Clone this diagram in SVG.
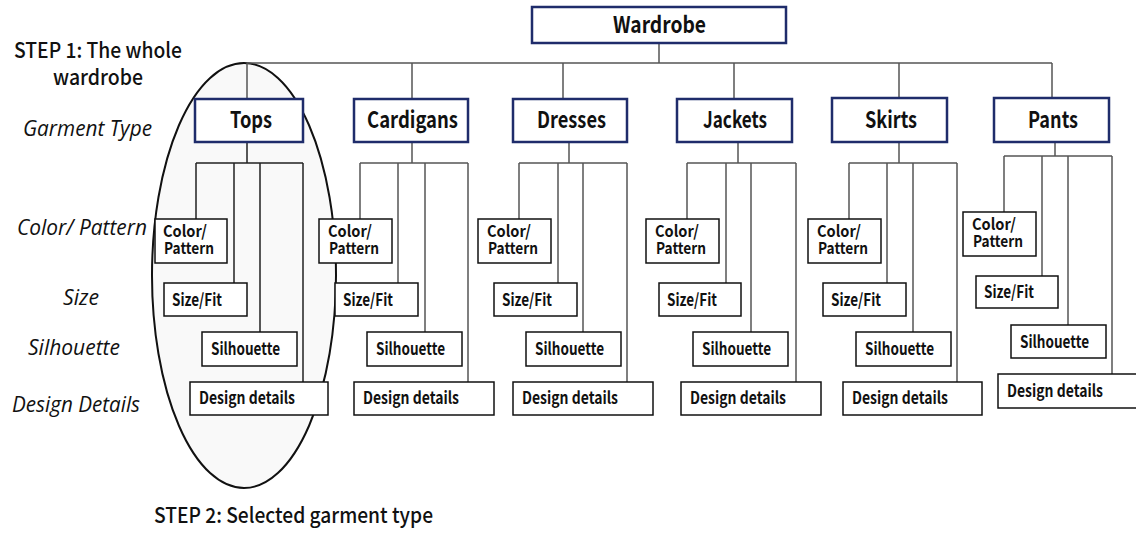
<svg xmlns="http://www.w3.org/2000/svg" width="1136" height="533" viewBox="0 0 1136 533">
  <style>
    .bg { fill: #ffffff; }
    .focus { fill: #f9f9f9; stroke: #111; stroke-width: 2; }
    .link { fill: none; stroke: #555; stroke-width: 1.5; }
    .link-dark { fill: none; stroke: #222; stroke-width: 1.5; }
    .top { fill: #fff; stroke: #1f2c6b; stroke-width: 2.5; }
    .leaf { fill: #fff; stroke: #111; stroke-width: 1.5; }
    .t-head { font-family: "Noto Sans CJK KR", "Noto Sans", sans-serif; font-weight: 700; font-size: 23px; fill: #111; }
    .t-leaf { font-family: "Noto Sans CJK KR", "Noto Sans", sans-serif; font-weight: 700; font-size: 17px; fill: #111; }
    .t-two { font-family: "Noto Sans CJK KR", "Noto Sans", sans-serif; font-weight: 700; font-size: 16px; fill: #111; }
    .t-side { font-family: "Open Sans", "Noto Sans", sans-serif; font-style: italic; font-size: 21px; fill: #111; }
    .t-step { font-family: "Noto Sans CJK KR", "Noto Sans", sans-serif; font-weight: 500; font-size: 21px; fill: #111; }
  </style>

  <rect class="bg" x="0" y="0" width="1136" height="533"/>

  <!-- highlighted garment type -->
  <ellipse id="selection" class="focus" cx="244" cy="275.5" rx="92" ry="212.5"/>

  <!-- row captions -->
  <g id="captions">
    <text class="t-step" x="14" y="58" textLength="168" lengthAdjust="spacingAndGlyphs">STEP 1: The whole</text>
    <text class="t-step" x="53" y="85" textLength="90" lengthAdjust="spacingAndGlyphs">wardrobe</text>
    <text class="t-side" x="23" y="136" textLength="129" lengthAdjust="spacingAndGlyphs">Garment Type</text>
    <text class="t-side" x="17" y="235" textLength="130" lengthAdjust="spacingAndGlyphs">Color/ Pattern</text>
    <text class="t-side" x="63" y="305" textLength="36" lengthAdjust="spacingAndGlyphs">Size</text>
    <text class="t-side" x="28" y="355" textLength="92" lengthAdjust="spacingAndGlyphs">Silhouette</text>
    <text class="t-side" x="12" y="412" textLength="128" lengthAdjust="spacingAndGlyphs">Design Details</text>
    <text class="t-step" x="154" y="523" textLength="279" lengthAdjust="spacingAndGlyphs">STEP 2: Selected garment type</text>
  </g>

  <!-- connectors -->
  <g id="connectors">
    <path class="link" d="M659 43V63 M247 63H1052 M247 63V99 M412 63V99 M563 63V99 M734 63V99 M899 63V99 M1052 63V98"/>
    <!-- Tops -->
    <path class="link-dark" d="M247 142V163 M196 163H303 M196 163V219 M234 163V283 M260 163V332 M303 163V382"/>
    <!-- Cardigans -->
    <path class="link" d="M412 142V163 M360 163H468 M360 163V219 M398 163V283 M425 163V332 M468 163V382"/>
    <!-- Dresses -->
    <path class="link" d="M569 142V163 M519 163H627 M519 163V219 M558 163V283 M583 163V332 M627 163V382"/>
    <!-- Jackets -->
    <path class="link" d="M738 142V163 M687 163H796 M687 163V219 M726 163V283 M751 163V332 M796 163V382"/>
    <!-- Skirts -->
    <path class="link" d="M899 142V163 M849 163H957 M849 163V219 M887 163V283 M913 163V332 M957 163V382"/>
    <!-- Pants -->
    <path class="link" d="M1055 142V156 M1004 156H1112 M1004 156V212 M1042 156V276 M1068 156V325 M1112 156V374"/>
  </g>

  <g id="wardrobe">
    <rect class="top" x="532" y="7" width="254" height="36"/>
    <text class="t-head" x="613" y="33" textLength="93" lengthAdjust="spacingAndGlyphs">Wardrobe</text>
  </g>

  <g id="tops">
    <rect class="top" x="195" y="99" width="108" height="43"/>
    <text class="t-head" x="230" y="128" textLength="42" lengthAdjust="spacingAndGlyphs">Tops</text>
    <rect class="leaf" x="155" y="219" width="72" height="44"/>
    <text class="t-two" x="163" y="237" textLength="44" lengthAdjust="spacingAndGlyphs">Color/</text>
    <text class="t-two" x="164" y="254" textLength="50" lengthAdjust="spacingAndGlyphs">Pattern</text>
    <rect class="leaf" x="164" y="283" width="83" height="33"/>
    <text class="t-leaf" x="172" y="306" textLength="50" lengthAdjust="spacingAndGlyphs">Size/Fit</text>
    <rect class="leaf" x="202" y="332" width="95" height="34"/>
    <text class="t-leaf" x="211" y="355" textLength="69" lengthAdjust="spacingAndGlyphs">Silhouette</text>
    <rect class="leaf" x="190" y="382" width="138" height="33"/>
    <text class="t-leaf" x="199" y="404" textLength="96" lengthAdjust="spacingAndGlyphs">Design details</text>
  </g>

  <g id="cardigans">
    <rect class="top" x="354" y="99" width="114" height="43"/>
    <text class="t-head" x="367" y="128" textLength="91" lengthAdjust="spacingAndGlyphs">Cardigans</text>
    <rect class="leaf" x="319" y="219" width="73" height="44"/>
    <text class="t-two" x="328" y="237" textLength="44" lengthAdjust="spacingAndGlyphs">Color/</text>
    <text class="t-two" x="329" y="254" textLength="50" lengthAdjust="spacingAndGlyphs">Pattern</text>
    <rect class="leaf" x="335" y="283" width="83" height="33"/>
    <text class="t-leaf" x="343" y="306" textLength="50" lengthAdjust="spacingAndGlyphs">Size/Fit</text>
    <rect class="leaf" x="367" y="332" width="95" height="34"/>
    <text class="t-leaf" x="376" y="355" textLength="69" lengthAdjust="spacingAndGlyphs">Silhouette</text>
    <rect class="leaf" x="354" y="382" width="140" height="33"/>
    <text class="t-leaf" x="363" y="404" textLength="96" lengthAdjust="spacingAndGlyphs">Design details</text>
  </g>

  <g id="dresses">
    <rect class="top" x="513" y="99" width="114" height="43"/>
    <text class="t-head" x="537" y="128" textLength="69" lengthAdjust="spacingAndGlyphs">Dresses</text>
    <rect class="leaf" x="478" y="219" width="73" height="44"/>
    <text class="t-two" x="487" y="237" textLength="44" lengthAdjust="spacingAndGlyphs">Color/</text>
    <text class="t-two" x="488" y="254" textLength="50" lengthAdjust="spacingAndGlyphs">Pattern</text>
    <rect class="leaf" x="494" y="283" width="83" height="33"/>
    <text class="t-leaf" x="502" y="306" textLength="50" lengthAdjust="spacingAndGlyphs">Size/Fit</text>
    <rect class="leaf" x="526" y="332" width="95" height="34"/>
    <text class="t-leaf" x="535" y="355" textLength="69" lengthAdjust="spacingAndGlyphs">Silhouette</text>
    <rect class="leaf" x="513" y="382" width="140" height="33"/>
    <text class="t-leaf" x="522" y="404" textLength="96" lengthAdjust="spacingAndGlyphs">Design details</text>
  </g>

  <g id="jackets">
    <rect class="top" x="677" y="99" width="115" height="43"/>
    <text class="t-head" x="703" y="128" textLength="64" lengthAdjust="spacingAndGlyphs">Jackets</text>
    <rect class="leaf" x="646" y="219" width="73" height="44"/>
    <text class="t-two" x="655" y="237" textLength="44" lengthAdjust="spacingAndGlyphs">Color/</text>
    <text class="t-two" x="656" y="254" textLength="50" lengthAdjust="spacingAndGlyphs">Pattern</text>
    <rect class="leaf" x="659" y="283" width="82" height="33"/>
    <text class="t-leaf" x="667" y="306" textLength="50" lengthAdjust="spacingAndGlyphs">Size/Fit</text>
    <rect class="leaf" x="693" y="332" width="95" height="34"/>
    <text class="t-leaf" x="702" y="355" textLength="69" lengthAdjust="spacingAndGlyphs">Silhouette</text>
    <rect class="leaf" x="681" y="382" width="140" height="33"/>
    <text class="t-leaf" x="690" y="404" textLength="96" lengthAdjust="spacingAndGlyphs">Design details</text>
  </g>

  <g id="skirts">
    <rect class="top" x="832" y="98" width="115" height="44"/>
    <text class="t-head" x="865" y="128" textLength="52" lengthAdjust="spacingAndGlyphs">Skirts</text>
    <rect class="leaf" x="808" y="219" width="73" height="44"/>
    <text class="t-two" x="817" y="237" textLength="44" lengthAdjust="spacingAndGlyphs">Color/</text>
    <text class="t-two" x="818" y="254" textLength="50" lengthAdjust="spacingAndGlyphs">Pattern</text>
    <rect class="leaf" x="823" y="283" width="83" height="33"/>
    <text class="t-leaf" x="831" y="306" textLength="50" lengthAdjust="spacingAndGlyphs">Size/Fit</text>
    <rect class="leaf" x="856" y="332" width="95" height="34"/>
    <text class="t-leaf" x="865" y="355" textLength="69" lengthAdjust="spacingAndGlyphs">Silhouette</text>
    <rect class="leaf" x="843" y="382" width="139" height="33"/>
    <text class="t-leaf" x="852" y="404" textLength="96" lengthAdjust="spacingAndGlyphs">Design details</text>
  </g>

  <g id="pants">
    <rect class="top" x="994" y="98" width="115" height="44"/>
    <text class="t-head" x="1028" y="128" textLength="50" lengthAdjust="spacingAndGlyphs">Pants</text>
    <rect class="leaf" x="963" y="212" width="73" height="44"/>
    <text class="t-two" x="972" y="230" textLength="44" lengthAdjust="spacingAndGlyphs">Color/</text>
    <text class="t-two" x="973" y="247" textLength="50" lengthAdjust="spacingAndGlyphs">Pattern</text>
    <rect class="leaf" x="976" y="276" width="82" height="32"/>
    <text class="t-leaf" x="984" y="298" textLength="50" lengthAdjust="spacingAndGlyphs">Size/Fit</text>
    <rect class="leaf" x="1011" y="325" width="95" height="33"/>
    <text class="t-leaf" x="1020" y="348" textLength="69" lengthAdjust="spacingAndGlyphs">Silhouette</text>
    <rect class="leaf" x="998" y="374" width="142" height="34"/>
    <text class="t-leaf" x="1007" y="397" textLength="96" lengthAdjust="spacingAndGlyphs">Design details</text>
  </g>
</svg>
